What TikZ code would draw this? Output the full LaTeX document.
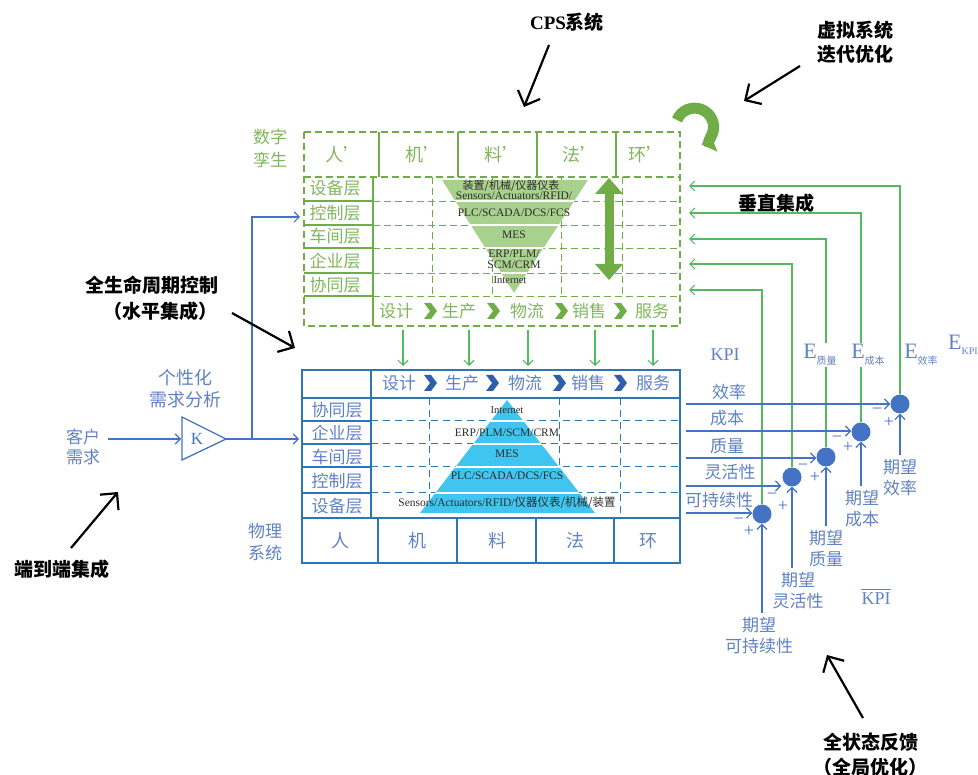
\documentclass[tikz,border=0pt]{standalone}
\usepackage{fontspec}
\setmainfont{Noto Sans CJK SC}
\newfontfamily\lat{Liberation Serif}
\usetikzlibrary{arrows.meta}
\definecolor{gtxt}{RGB}{128,182,92}
\definecolor{gline}{RGB}{112,173,71}
\definecolor{gtri}{RGB}{169,209,142}
\definecolor{gfb}{RGB}{84,186,98}
\definecolor{bline}{RGB}{46,117,182}
\definecolor{btxt}{RGB}{96,130,196}
\definecolor{bdot}{RGB}{68,114,196}
\definecolor{btri}{RGB}{64,196,240}
\definecolor{bchev}{RGB}{47,95,170}
\definecolor{dark}{RGB}{45,45,45}
\tikzset{
  gdash/.style={dash pattern=on 7pt off 4pt},
  bdash/.style={dash pattern=on 7pt off 5pt},
  gt/.style={text=gtxt,font=\fontsize{17}{17}\selectfont,inner sep=0pt},
  bt/.style={text=btxt,font=\fontsize{17}{17}\selectfont,inner sep=0pt},
  bt2/.style={text=btxt,font=\fontsize{17}{21}\selectfont,inner sep=0pt,align=center},
  tt/.style={text=dark,font=\lat\fontsize{11.5}{11.5}\selectfont,inner sep=0pt},
  ttc/.style={text=dark,font=\fontsize{11}{11}\selectfont,inner sep=0pt},
  an/.style={text=black,font=\fontsize{19}{19}\selectfont\bfseries,inner sep=0pt},
  sm/.style={-{Straight Barb[length=5pt,width=10pt]}},
  bigarr/.style={line width=2.2pt,-{Straight Barb[length=12pt,width=24pt]}},
  pm/.style={text=bdot,font=\lat\fontsize{18}{18}\selectfont,inner sep=0pt},
  sumdot/.style={circle,fill=bdot,minimum size=19pt,inner sep=0pt},
  elab/.style={fill=white,inner sep=1pt,text=btxt},
  chevron/.pic={\fill (-6,-8) -- (1,-8) -- (7,0) -- (1,8) -- (-6,8) -- (0,0) -- cycle;}
}
\begin{document}
\begin{tikzpicture}[x=1pt,y=-1pt]
\useasboundingbox (0,0) rectangle (978,775);

%% ================= GREEN (digital twin) table
\foreach \y in {201,225,248,273,296} \draw[gline,line width=0.9pt,gdash] (373,\y) -- (680,\y);
\foreach \x in {432,492,561,622} \draw[gline,line width=0.9pt,gdash] (\x,177) -- (\x,296);
\draw[gline,line width=1.2pt] (373,177) -- (373,326);
\foreach \y in {201,225,248,273,296} \draw[gline,line width=1.2pt] (304,\y) -- (373,\y);
\foreach \x in {379,458,537,616} \draw[gline,line width=1.4pt] (\x,132) -- (\x,177);
\draw[gline,line width=1.5pt,gdash] (304,177) -- (680,177);
\draw[gline,line width=1.8pt,gdash] (304,132) rectangle (680,326);

% inverted triangle
\fill[gtri] (442,180) -- (588,180) -- (514,293) -- cycle;
\begin{scope}
  \clip (442,180) -- (588,180) -- (514,293) -- cycle;
  \foreach \y in {201,225,248,273} \draw[white,line width=1.2pt] (430,\y) -- (600,\y);
\end{scope}
\node[ttc] (gta) at (511,186) {装置/机械/仪器仪表};
\node[tt] (gtb) at (514,196) {Sensors/Actuators/RFID/};
\node[tt] (gtc) at (514,213) {PLC/SCADA/DCS/FCS};
\node[tt] (gtd) at (514,235) {MES};
\node[tt] (gte) at (514,254) {ERP/PLM/};
\node[tt] (gtf) at (514,265) {SCM/CRM};
\node[tt,font=\lat\fontsize{10.5}{10.5}\selectfont] (gtg) at (510,280) {Internet};

% vertical double arrow
\coordinate (dva) at (609,178);
\coordinate (dvb) at (609,280);
\draw[gline,line width=9pt,{Triangle[length=16pt,width=27pt]}-{Triangle[length=16pt,width=27pt]}] (dva) -- (dvb);

% green texts
\node[gt] (dz1) at (270,137) {数字};
\node[gt] (dz2) at (270,160) {孪生};
\node[gt,font=\fontsize{18}{18}\selectfont] (gr1) at (343,155) {人’};
\node[gt,font=\fontsize{18}{18}\selectfont] (gr2) at (423,155) {机’};
\node[gt,font=\fontsize{18}{18}\selectfont] (gr3) at (502,155) {料’};
\node[gt,font=\fontsize{18}{18}\selectfont] (gr4) at (580,155) {法’};
\node[gt,font=\fontsize{18}{18}\selectfont] (gr5) at (646,155) {环’};
\node[gt] (gl1) at (335,188) {设备层};
\node[gt] (gl2) at (335,213) {控制层};
\node[gt] (gl3) at (335,236) {车间层};
\node[gt] (gl4) at (335,261) {企业层};
\node[gt] (gl5) at (335,285) {协同层};
\node[gt] (gp1) at (396,311) {设计};
\node[gt] (gp2) at (459,311) {生产};
\node[gt] (gp3) at (527,311) {物流};
\node[gt] (gp4) at (589,311) {销售};
\node[gt] (gp5) at (652,311) {服务};
\foreach \x in {430,493,561,620} \pic[color=gline] at (\x,311) {chevron};

%% green down arrows
\foreach \x in {403,469,528,595,653} {
  \coordinate (da\x) at (\x,330);
  \coordinate (db\x) at (\x,366);
  \draw[gfb,line width=1.2pt,sm] (da\x) -- (db\x);
}

%% ================= BLUE (physical) table
\foreach \y in {421,444,467,493} \draw[bline,line width=1pt,bdash] (371,\y) -- (680,\y);
\foreach \x in {429,559,620} \draw[bline,line width=1pt,bdash] (\x,398) -- (\x,518);
\fill[btri] (507,400) -- (595,513) -- (420,513) -- cycle;
\begin{scope}
  \clip (507,400) -- (595,513) -- (420,513) -- cycle;
  \foreach \y in {421,444,467,493} \draw[white,line width=1.2pt] (410,\y) -- (610,\y);
\end{scope}
\draw[bline,line width=1.4pt] (302,398) -- (680,398);
\draw[bline,line width=1.4pt] (371,370) -- (371,518);
\foreach \y in {421,444,467,493} \draw[bline,line width=1.2pt] (302,\y) -- (371,\y);
\draw[bline,line width=1.8pt] (302,518) -- (680,518);
\foreach \x in {378,457,536,614} \draw[bline,line width=1.4pt] (\x,518) -- (\x,563);
\draw[bline,line width=1.8pt] (302,370) rectangle (680,563);

\node[tt,font=\lat\fontsize{10.5}{10.5}\selectfont] (bta) at (507,410) {Internet};
\node[tt] (btb) at (507,433) {ERP/PLM/SCM/CRM};
\node[tt] (btc) at (507,454) {MES};
\node[tt] (btd) at (507,476) {PLC/SCADA/DCS/FCS};
\node[tt] (bte) at (507,503) {Sensors/Actuators/RFID/{\fontspec{Noto Sans CJK SC}\fontsize{11.5}{11.5}\selectfont 仪器仪表/机械/装置}};

\node[bt] (bh1) at (399,383) {设计};
\node[bt] (bh2) at (462,383) {生产};
\node[bt] (bh3) at (525,383) {物流};
\node[bt] (bh4) at (588,383) {销售};
\node[bt] (bh5) at (653,383) {服务};
\foreach \x in {430,492,559,620} \pic[color=bchev] at (\x,383) {chevron};
\node[bt] (bl1) at (337,410) {协同层};
\node[bt] (bl2) at (337,433) {企业层};
\node[bt] (bl3) at (337,457) {车间层};
\node[bt] (bl4) at (337,481) {控制层};
\node[bt] (bl5) at (337,506) {设备层};
\node[bt,font=\fontsize{18}{18}\selectfont] (bb1) at (340,541) {人};
\node[bt,font=\fontsize{18}{18}\selectfont] (bb2) at (417,541) {机};
\node[bt,font=\fontsize{18}{18}\selectfont] (bb3) at (497,541) {料};
\node[bt,font=\fontsize{18}{18}\selectfont] (bb4) at (575,541) {法};
\node[bt,font=\fontsize{18}{18}\selectfont] (bb5) at (648,541) {环};
\node[bt] (wl1) at (265,531) {物理};
\node[bt] (wl2) at (265,553) {系统};

%% ================= customer input / K
\node[bt] (kh1) at (83,437) {客户};
\node[bt] (kh2) at (83,457) {需求};
\node[bt,font=\fontsize{18}{18}\selectfont] (gx1) at (185,378) {个性化};
\node[bt,font=\fontsize{18}{18}\selectfont] (gx2) at (185,400) {需求分析};
\draw[bdot,line width=1.3pt] (182,417) -- (226,439) -- (182,460) -- cycle;
\node[text=bdot,font=\lat\fontsize{17}{17}\selectfont,inner sep=0pt] (kk) at (197,439) {K};
\coordinate (kin) at (108,439);
\coordinate (kl) at (181,439);
\coordinate (kout) at (226,439);
\coordinate (kbr) at (252,439);
\coordinate (ktab) at (299,439);
\coordinate (kup) at (252,217);
\coordinate (kgt) at (300,217);
\draw[bdot,line width=1.2pt,sm] (kin) -- (kl);
\draw[bdot,line width=1.2pt,sm] (kout) -- (ktab);
\draw[bdot,line width=1.2pt,sm] (kbr) -- (kup) -- (kgt);

%% ================= KPI feedback
\node[sumdot] (s1) at (900,404) {};
\node[sumdot] (s2) at (861,432) {};
\node[sumdot] (s3) at (826,457) {};
\node[sumdot] (s4) at (792,477) {};
\node[sumdot] (s5) at (762,514) {};

% green feedback lines
\coordinate (f1) at (689,186);
\coordinate (f2) at (689,213);
\coordinate (f3) at (689,239);
\coordinate (f4) at (689,264);
\coordinate (f5) at (689,290);
\draw[gfb,line width=1.2pt,sm] (s1.north) |- (f1);
\draw[gfb,line width=1.2pt,sm] (s2.north) |- (f2);
\draw[gfb,line width=1.2pt,sm] (s3.north) |- (f3);
\draw[gfb,line width=1.2pt,sm] (s4.north) |- (f4);
\draw[gfb,line width=1.2pt,sm] (s5.north) |- (f5);

% blue KPI input lines
\coordinate (b1) at (686,404);
\coordinate (b2) at (686,431);
\coordinate (b3) at (686,458);
\coordinate (b4) at (686,486);
\coordinate (b5) at (686,513);
\draw[bdot,line width=1.2pt,sm] (b1) -- (b1 -| s1.west);
\draw[bdot,line width=1.2pt,sm] (b2) -- (b2 -| s2.west);
\draw[bdot,line width=1.2pt,sm] (b3) -- (b3 -| s3.west);
\draw[bdot,line width=1.2pt,sm] (b4) -- ([xshift=-1pt]b4 -| s4.west);
\draw[bdot,line width=1.2pt,sm] (b5) -- (b5 -| s5.west);

\node[bt] (k1) at (729,392) {效率};
\node[bt] (k2) at (727,418) {成本};
\node[bt] (k3) at (727,446) {质量};
\node[bt] (k4) at (730,472) {灵活性};
\node[bt] (k5) at (719,500) {可持续性};
\node[text=btxt,font=\lat\fontsize{18}{18}\selectfont,inner sep=0pt] (kpi) at (725,355) {KPI};

% E labels
\node[elab] (e1) at (820,355) {{\lat\fontsize{22}{22}\selectfont E}\raisebox{-6pt}{\fontsize{10}{10}\selectfont 质量}};
\node[elab] (e2) at (868,355) {{\lat\fontsize{22}{22}\selectfont E}\raisebox{-6pt}{\fontsize{10}{10}\selectfont 成本}};
\node[text=btxt,inner sep=0pt] (e3) at (921,355) {{\lat\fontsize{22}{22}\selectfont E}\raisebox{-6pt}{\fontsize{10}{10}\selectfont 效率}};
\node[text=btxt,inner sep=0pt,anchor=west] (e4) at (948,345) {{\lat\fontsize{22}{22}\selectfont E}\raisebox{-5pt}{\lat\fontsize{10}{10}\selectfont KPI}};

% signs
\node[pm] (m1) at (877,411) {−};  \node[pm] (p1) at (889,422) {+};
\node[pm] (m2) at (837,439) {−};  \node[pm] (p2) at (848,447) {+};
\node[pm] (m3) at (803,467) {−};  \node[pm] (p3) at (815,477) {+};
\node[pm] (m4) at (772,496) {−};  \node[pm] (p4) at (783,506) {+};
\node[pm] (m5) at (739,521) {−};  \node[pm] (p5) at (749,531) {+};

% desired values
\node[bt2] (q1) at (900,478) {期望\\效率};
\node[bt2] (q2) at (862,509) {期望\\成本};
\node[bt2] (q3) at (826,549) {期望\\质量};
\node[bt2] (q4) at (798,591) {期望\\灵活性};
\node[bt2] (q5) at (759,636) {期望\\可持续性};
\draw[bdot,line width=1.2pt,sm,shorten <=4pt] (q1.north -| s1) -- (s1.south);
\draw[bdot,line width=1.2pt,sm,shorten <=4pt] (q2.north -| s2) -- (s2.south);
\draw[bdot,line width=1.2pt,sm,shorten <=4pt] (q3.north -| s3) -- (s3.south);
\draw[bdot,line width=1.2pt,sm,shorten <=4pt] (q4.north -| s4) -- (s4.south);
\draw[bdot,line width=1.2pt,sm,shorten <=4pt] (q5.north -| s5) -- (s5.south);
\node[text=btxt,font=\lat\fontsize{18}{18}\selectfont,inner sep=0pt] (kpibar) at (876,599) {KPI};
\draw[btxt,line width=1.1pt] ([yshift=3pt]kpibar.north west) -- ([yshift=3pt]kpibar.north east);

%% ================= circular arrow
\draw[gline,line width=11pt,-{Triangle[length=12pt,width=24pt]}] (677,120) arc[start angle=-158,end angle=68,radius=19];

%% ================= black annotations
\node[an] (cps) at (567,22) {{\lat\bfseries CPS}系统};
\node[an] (xn1) at (855,30) {虚拟系统};
\node[an] (xn2) at (855,54) {迭代优化};
\node[an] (sm1) at (152,285) {全生命周期控制};
\node[an] (sm2) at (160,311) {（水平集成）};
\node[an] (cz) at (776,203) {垂直集成};
\node[an] (dd) at (62,569) {端到端集成};
\node[an] (qz1) at (871,742) {全状态反馈};
\node[an] (qz2) at (870,767) {（全局优化）};
\coordinate (a1s) at (549,45);  \coordinate (a1e) at (524,107);
\coordinate (a2s) at (800,66);  \coordinate (a2e) at (744,101);
\coordinate (a3s) at (232,313); \coordinate (a3e) at (295,348);
\coordinate (a4s) at (71,548);  \coordinate (a4e) at (118,492);
\coordinate (a5s) at (863,718); \coordinate (a5e) at (827,655);
\draw[bigarr] (a1s) -- (a1e);
\draw[bigarr] (a2s) -- (a2e);
\draw[bigarr] (a3s) -- (a3e);
\draw[bigarr] (a4s) -- (a4e);
\draw[bigarr] (a5s) -- (a5e);
\end{tikzpicture}
\end{document}
